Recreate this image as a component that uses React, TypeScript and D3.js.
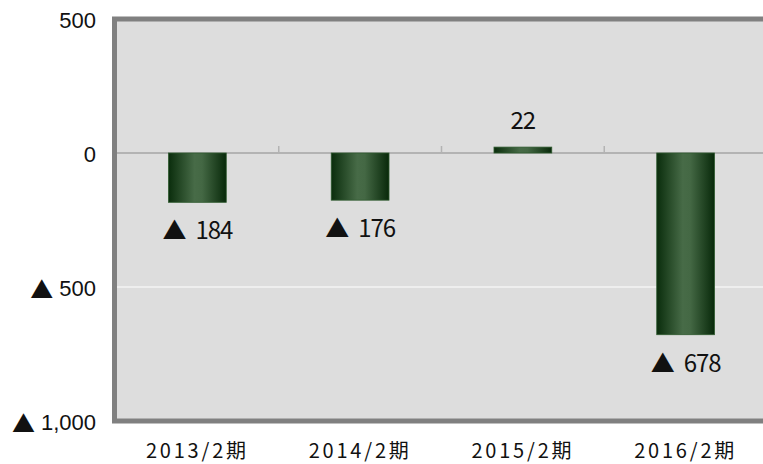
import React from 'react';
import * as d3 from 'd3';

const categories = ['2013/2期', '2014/2期', '2015/2期', '2016/2期'];
const values = [-184, -176, 22, -678];
const yTicks = [500, 0, -500, -1000];

const W = 763;
const H = 464;
const plot = { left: 116, right: 767, top: 19, bottom: 421 };

const num = (v: number) => d3.format(',')(Math.abs(v));
const CJK = "'Noto Sans CJK JP', sans-serif";

export default function App() {
  const x = d3.scaleBand<string>().domain(categories).range([plot.left, plot.right]).padding(0);
  const y = d3.scaleLinear().domain([-1000, 500]).range([plot.bottom, plot.top]);
  const barW = x.bandwidth() * 0.355;
  const y0 = y(0);

  return (
    <svg width={W} height={H} style={{ position: 'absolute', left: 0, top: 0 }}>
      <defs>
        <linearGradient id="barGrad" x1="0" x2="1" y1="0" y2="0">
          <stop offset="0%" stopColor="#0a2d0c" />
          <stop offset="45%" stopColor="#476b47" />
          <stop offset="58%" stopColor="#446844" />
          <stop offset="100%" stopColor="#08290a" />
        </linearGradient>
      </defs>
      <rect
        x={plot.left - 1.5}
        y={plot.top}
        width={plot.right - plot.left + 60}
        height={plot.bottom - plot.top}
        fill="#dddddd"
        stroke="#808080"
        strokeWidth={5}
      />
      {yTicks
        .filter((t) => t !== 0 && t !== 500 && t !== -1000)
        .map((t) => (
          <line key={'g' + t} x1={plot.left + 1} x2={W} y1={y(t)} y2={y(t)} stroke="#ffffff" strokeWidth={1} />
        ))}
      <line x1={plot.left + 1} x2={W} y1={y0} y2={y0} stroke="#b3b3b3" strokeWidth={2} />
      {categories.slice(1).map((c) => (
        <line key={'t' + c} x1={x(c)!} x2={x(c)!} y1={y0 - 7} y2={y0} stroke="#b3b3b3" strokeWidth={1.5} />
      ))}
      {categories.map((c, i) => {
        const v = values[i];
        const cx = x(c)! + x.bandwidth() / 2;
        const top = Math.min(y(v), y0);
        const h = Math.abs(y(v) - y0);
        return (
          <g key={c}>
            <rect
              x={cx - barW / 2}
              y={top}
              width={barW}
              height={h}
              fill="url(#barGrad)"
              stroke="#2f5a2f"
              strokeWidth={0.8}
            />
            <text
              x={cx}
              y={v < 0 ? y(v) + 26 : y(v) - 29}
              textAnchor="middle"
              dominantBaseline="central"
              fontFamily={CJK}
              fontSize={24}
              letterSpacing={-1}
              fill="#111"
            >
              {v < 0 ? <tspan>▲</tspan> : null}
              <tspan dx={v < 0 ? 10 : 0}>{num(v)}</tspan>
            </text>
            <text
              x={cx}
              y={449.5}
              textAnchor="middle"
              dominantBaseline="central"
              fontFamily={CJK}
              fontSize={20}
              letterSpacing={2.8}
              fill="#111"
            >
              {c}
            </text>
          </g>
        );
      })}
      {yTicks.map((t) => (
        <text
          key={'y' + t}
          x={96}
          y={y(t) + 1}
          textAnchor="end"
          dominantBaseline="central"
          fontFamily="'Liberation Sans', Arial, sans-serif"
          fontSize={22}
          fill="#111"
        >
          {t < 0 ? (
            <tspan fontFamily={CJK} fontSize={23}>
              ▲
            </tspan>
          ) : null}
          <tspan dx={t < 0 ? 6 : 0}>{num(t)}</tspan>
        </text>
      ))}
    </svg>
  );
}
